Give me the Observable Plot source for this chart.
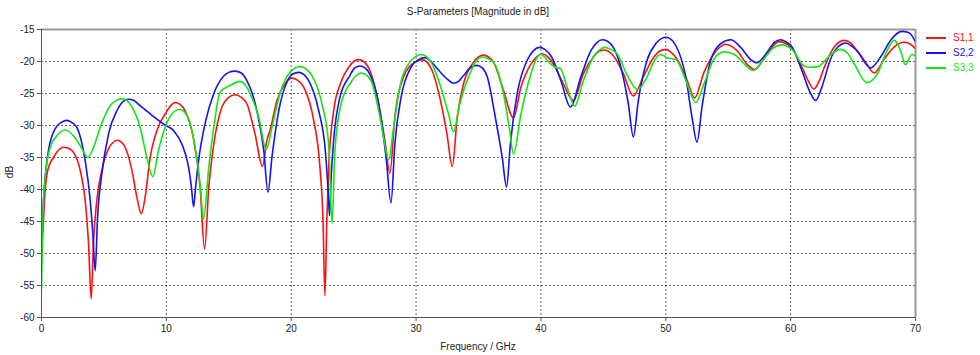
<!DOCTYPE html>
<html>
<head>
<meta charset="utf-8">
<script src="https://cdn.jsdelivr.net/npm/d3@7"></script>
<script src="https://cdn.jsdelivr.net/npm/@observablehq/plot@0.6"></script>
<style>
  html, body { margin: 0; padding: 0; background: #fff; }
  #wrap { position: relative; width: 980px; height: 355px; font-family: "Liberation Sans", Arial, sans-serif; color: #222; }
  #wrap svg { position: absolute; left: 0; top: 0; }
  .ov { position: absolute; font-size: 10px; line-height: 12px; white-space: nowrap; }
  #title { left: 41px; width: 874px; top: 6px; text-align: center; }
  #xlab { left: 41px; width: 874px; top: 341px; text-align: center; }
  #ylab { left: -10px; width: 40px; top: 166px; text-align: center; transform: rotate(-90deg); }
  .leg { position: absolute; left: 926px; height: 12px; font-size: 10px; line-height: 12px; }
  .leg i { position: absolute; left: 0; top: 5px; width: 20px; height: 2px; }
  .leg span { position: absolute; left: 27px; top: 0; }
</style>
</head>
<body>
<div id="wrap">
  <div id="title" class="ov">S-Parameters [Magnitude in dB]</div>
  <div id="xlab" class="ov">Frequency / GHz</div>
  <div id="ylab" class="ov">dB</div>
</div>
<script>
const xTicks = [0, 10, 20, 30, 40, 50, 60, 70];
const yTicks = [-60, -55, -50, -45, -40, -35, -30, -25, -20, -15];
const seriesNames = ["S1,1", "S2,2", "S3,3"];
const seriesColors = ["#ff1010", "#1414f0", "#14e614"];

// [frequency GHz, dB]
const s11 = [[0,-50.5],[0.15,-45],[0.3,-40],[0.5,-37],[0.96,-35],[1.3,-34],[1.76,-33.4],[2.2,-33.6],[2.56,-34.2],[3.1,-37],[3.5,-41.7],[3.77,-48.5],[3.98,-57.1],[4.17,-48],[4.43,-41.7],[4.83,-37],[5.37,-33.6],[5.7,-32.7],[6.09,-32.3],[6.4,-32.6],[6.7,-33.4],[7.24,-37],[7.64,-41.2],[7.99,-43.8],[8.3,-41.2],[8.7,-35],[9.24,-30.8],[10.0,-27.9],[10.35,-26.9],[10.7,-26.4],[11.1,-26.7],[11.5,-27.7],[12.2,-32.3],[12.7,-39.6],[13.06,-49.3],[13.4,-39.6],[13.8,-32.9],[14.45,-27.1],[15.0,-25.6],[15.5,-25.2],[16.0,-25.6],[16.45,-26.6],[17.1,-31.3],[17.7,-36.4],[18.05,-32.3],[18.3,-30.8],[18.86,-26.1],[19.5,-23.5],[20.06,-22.6],[20.5,-22.9],[21.0,-24],[21.8,-29.2],[22.3,-36.5],[22.55,-45],[22.7,-56.6],[22.85,-45],[23.0,-36.5],[23.4,-27.7],[23.93,-23.5],[24.6,-20.9],[25.0,-20.0],[25.4,-19.7],[25.8,-20.0],[26.3,-21.4],[26.96,-26.1],[27.5,-32.3],[27.9,-37.5],[28.3,-28.7],[29.0,-22.4],[29.9,-20.1],[30.5,-19.7],[31.28,-21.4],[31.9,-25.6],[32.47,-31.3],[32.9,-36.4],[33.3,-28.7],[33.8,-23.5],[34.6,-20.1],[35.0,-19.3],[35.4,-19.0],[35.8,-19.3],[36.2,-20.1],[37.0,-24.5],[37.8,-28.8],[38.4,-24],[39.2,-20.4],[39.7,-19.2],[40.1,-18.8],[40.5,-19.2],[41.0,-20.4],[41.8,-23.5],[42.6,-26.1],[43.4,-21.9],[44.2,-19.3],[44.6,-18.5],[45.0,-18.2],[45.4,-18.4],[45.8,-19.1],[46.6,-21.9],[47.4,-25.4],[48.2,-22.4],[49.05,-19.3],[49.5,-18.4],[50.0,-18.1],[50.45,-18.6],[50.9,-19.6],[51.7,-22.9],[52.3,-25.7],[53.06,-21.7],[53.86,-18.8],[54.3,-17.8],[54.8,-17.3],[55.25,-17.6],[55.7,-18.3],[56.5,-20.4],[57.1,-21.25],[57.85,-19.6],[58.5,-17.8],[59.05,-16.9],[59.5,-17.1],[60.0,-17.7],[60.8,-20.4],[61.4,-23],[61.86,-24.3],[62.3,-23],[62.7,-20.9],[63.5,-17.7],[64.3,-16.7],[64.8,-17.1],[65.2,-18],[66.0,-20.1],[66.7,-21.8],[67.5,-19.6],[68.3,-17.7],[69.1,-17.0],[69.6,-17.3],[70.0,-18]];

const s22 = [[0,-50],[0.15,-42],[0.35,-37],[0.56,-33.9],[1.1,-30.5],[1.6,-29.5],[2.03,-29.2],[2.4,-29.5],[2.83,-30.3],[3.2,-32.5],[3.5,-35.5],[3.9,-41.7],[4.11,-46.9],[4.3,-52.7],[4.49,-44.3],[4.83,-37.6],[5.37,-31.3],[6.04,-27.7],[6.5,-26.3],[6.97,-25.9],[7.4,-26.1],[7.9,-26.9],[8.84,-28.4],[9.78,-29.8],[10.58,-30.8],[11.24,-32.9],[11.78,-36.5],[12.0,-39.5],[12.18,-42.7],[12.35,-39.5],[12.58,-35.5],[13.1,-29.7],[13.8,-25],[14.58,-22.3],[15.0,-21.7],[15.5,-21.5],[16.0,-21.8],[16.45,-23],[17.25,-27.7],[17.8,-33.9],[18.14,-40.4],[18.46,-34.9],[19.0,-27.7],[19.66,-23.2],[20.1,-22.0],[20.6,-21.7],[21.0,-22.0],[21.4,-23],[22.2,-27.7],[22.73,-33.9],[22.95,-40],[23.07,-44.1],[23.2,-38],[23.4,-32.3],[23.9,-25.6],[24.7,-22.2],[25.1,-21],[25.5,-20.7],[25.9,-21],[26.4,-22.4],[27.1,-27.7],[27.6,-35],[27.99,-42.1],[28.3,-32.9],[28.8,-25.6],[29.6,-20.9],[30.2,-19.7],[30.7,-19.4],[31.1,-19.8],[31.6,-20.9],[32.47,-22.7],[33.0,-23.4],[33.4,-23.1],[33.8,-22.2],[34.4,-20.9],[34.87,-20.6],[35.3,-21.0],[35.7,-22.4],[36.3,-28.2],[36.9,-35],[37.25,-39.6],[37.55,-32.9],[38.1,-25],[38.9,-19.8],[39.4,-18.3],[39.9,-17.8],[40.3,-18.1],[40.8,-19.1],[41.6,-23],[42.36,-27.1],[43.2,-22.4],[44.0,-18.3],[44.5,-17.0],[44.9,-16.6],[45.3,-16.8],[45.8,-17.8],[46.4,-20.9],[47.0,-26.6],[47.4,-31.8],[47.8,-26.1],[48.5,-19.8],[49.2,-17.2],[50.0,-16.2],[50.4,-16.5],[50.8,-17.5],[51.6,-22.4],[52.1,-28.7],[52.5,-32.6],[52.9,-27.1],[53.6,-19.8],[54.4,-17.2],[55.2,-16.6],[56.0,-17.8],[56.8,-19.7],[57.3,-20.2],[58.1,-18.6],[58.7,-17.0],[59.2,-16.6],[59.6,-16.9],[60.1,-17.7],[60.9,-21.4],[61.6,-25],[62.0,-26.1],[62.5,-24],[63.2,-19.6],[63.8,-17.7],[64.4,-17.1],[65.3,-18.3],[66.4,-21.0],[67.2,-19.3],[68.0,-16.7],[68.9,-15.3],[69.3,-15.4],[69.6,-15.7],[70,-16.9]];

const s33 = [[0,-55.5],[0.1,-45],[0.3,-38],[0.7,-33.4],[1.23,-31.6],[1.9,-30.7],[2.56,-31.6],[3.23,-33.6],[3.71,-35],[4.17,-33.4],[4.7,-30.3],[5.5,-26.9],[6.0,-26.1],[6.44,-25.8],[6.9,-26.2],[7.24,-27.1],[7.9,-30.3],[8.44,-35],[8.92,-38],[9.37,-33.9],[9.9,-30.3],[10.44,-28.2],[11.06,-27.5],[11.5,-28],[11.78,-29],[12.3,-33.4],[12.7,-39.1],[12.98,-44.6],[13.4,-36.5],[13.8,-30.3],[14.3,-24.8],[15.1,-23.75],[15.9,-23.1],[16.3,-23.6],[16.7,-25],[17.4,-28.7],[18.0,-33.75],[18.46,-30.3],[19.1,-25],[19.9,-21.7],[20.7,-20.8],[21.2,-21.2],[21.66,-22.2],[22.46,-26.6],[23.0,-32.9],[23.27,-45.3],[23.5,-33.9],[24.0,-26.6],[24.8,-23.2],[25.6,-21.8],[26.0,-22.1],[26.4,-23],[27.06,-28.2],[27.5,-32.9],[27.8,-35.4],[28.2,-30.3],[28.7,-24],[29.5,-20.1],[30.0,-19.2],[30.4,-18.9],[30.8,-19.2],[31.2,-20.1],[31.9,-23.5],[32.6,-28.2],[33.0,-31],[33.5,-26.6],[34.35,-21.7],[34.9,-19.7],[35.3,-19.3],[35.7,-19.5],[36.2,-20.1],[37.0,-25],[37.5,-30.8],[37.8,-34.5],[38.4,-28.2],[39.2,-21.9],[39.6,-19.7],[40.0,-18.9],[40.3,-19.3],[40.63,-20.1],[41.16,-20.9],[41.56,-21.1],[42.1,-24],[42.7,-27],[43.4,-23],[44.2,-19.3],[44.7,-18.2],[45.1,-17.8],[45.6,-18.1],[46.1,-18.8],[46.9,-22.1],[47.75,-24.4],[48.5,-22.4],[49.1,-19.8],[49.57,-18.9],[50.1,-19.4],[50.8,-19.7],[51.6,-22.9],[52.4,-26.4],[53.06,-23.5],[53.86,-19.6],[54.66,-18.5],[55.5,-18.9],[56.3,-20.4],[57.0,-21.4],[57.85,-19.6],[58.6,-17.9],[59.3,-17.4],[59.8,-17.7],[60.2,-18.3],[60.9,-20.4],[61.4,-20.9],[62.2,-20.8],[63.0,-19.3],[64.0,-18.1],[64.5,-18.6],[65.1,-20.4],[66.1,-23.3],[66.96,-21.9],[67.6,-18.8],[68.3,-16.7],[68.8,-18.3],[69.2,-20.5],[69.7,-18.9],[70,-19.1]];

const seriesData = [s11, s22, s33];
const table = seriesData.flatMap((arr, i) => arr.map(([f, db]) => ({f, db, name: seriesNames[i]})));

const chart = Plot.plot({
  width: 980,
  height: 355,
  marginLeft: 41,
  marginRight: 65,
  marginTop: 29,
  marginBottom: 38,
  style: {fontFamily: '"Liberation Sans", Arial, sans-serif', fontSize: "10px", color: "#222", background: "transparent", overflow: "visible"},
  x: {domain: [0, 70]},
  y: {domain: [-60, -15]},
  color: {domain: seriesNames, range: seriesColors},
  marks: [
    Plot.gridX(xTicks.slice(1, -1), {stroke: "#666", strokeOpacity: 1, strokeDasharray: "2,2"}),
    Plot.gridY(yTicks.slice(1, -1), {stroke: "#666", strokeOpacity: 1, strokeDasharray: "2,2"}),
    Plot.ruleY([-15], {stroke: "#9a9a9a", strokeWidth: 2}),
    Plot.ruleX([70], {stroke: "#9a9a9a", strokeWidth: 2}),
    Plot.line(table, {x: "f", y: "db", z: "name", stroke: "name", strokeWidth: 1.6, curve: "monotone-x", clip: true}),
    Plot.ruleX([0], {stroke: "#555"}),
    Plot.ruleY([-60], {stroke: "#555"}),
    Plot.axisX(xTicks, {tickSize: 4, tickPadding: 3, label: null, stroke: "#555", fill: "#222"}),
    Plot.axisY(yTicks, {tickSize: 4, tickPadding: 3, label: null, stroke: "#555", fill: "#222", tickFormat: d => String(d)})
  ]
});

const wrap = document.getElementById("wrap");
wrap.insertBefore(chart, wrap.firstChild);

// legend
const legendTops = [32, 46.5, 62];
seriesNames.forEach((name, i) => {
  const d = document.createElement("div");
  d.className = "leg";
  d.style.top = legendTops[i] + "px";
  d.innerHTML = `<i style="background:${seriesColors[i]}"></i><span style="color:${seriesColors[i]}">${name}</span>`;
  wrap.appendChild(d);
});
</script>
</body>
</html>
